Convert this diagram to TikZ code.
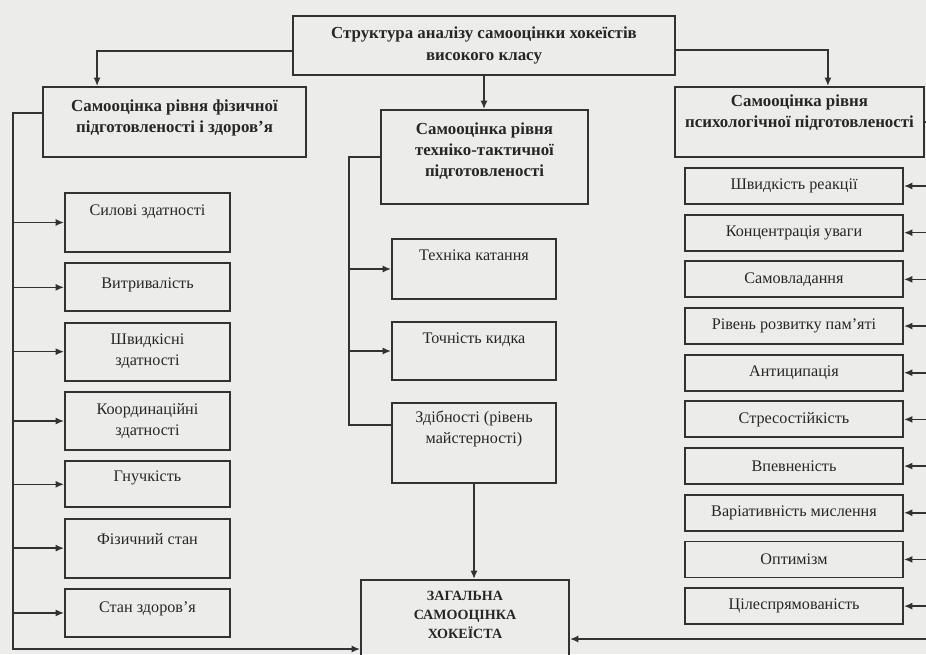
\documentclass[tikz,border=0pt]{standalone}
\usepackage{fontspec}
\setmainfont{Liberation Serif}
\usetikzlibrary{arrows.meta,calc,positioning}
\definecolor{ink}{RGB}{50,50,50}
\definecolor{type}{RGB}{38,38,38}
\definecolor{paper}{RGB}{236,236,234}
\tikzset{%
	head/.style     = {draw=ink, line width=1.3pt, rectangle, align=center, text=type, font=\fontsize{12}{15}\selectfont\bfseries},
	item/.style     = {draw=ink, line width=1.3pt, rectangle, align=center, text=type, font=\fontsize{11.5}{15}\selectfont},
	physitem/.style = {item, minimum width=4.125cm}, % left column
	techitem/.style = {item, minimum width=4.1cm}, % middle column
	psyitem/.style  = {item, minimum width=5.45cm, minimum height=0.9cm}, % right column
	lift/.style     = {text depth=#1},
	link/.style     = {ink, line width=1.1pt},
}

\begin{document}
\begin{tikzpicture}[x=0.025cm,y=-0.025cm,>={Latex[length=6pt,width=5pt]}]
	\path[use as bounding box, fill=paper] (0,0) rectangle (926,654);

	% headers
	\node [head, minimum width=9.55cm, minimum height=1.475cm] (top) at (484,45.5) {Структура аналізу самооцінки хокеїстів\\високого класу};
	\node [head, minimum width=6.575cm, minimum height=1.75cm, lift=8pt] (phys) at (174.5,122) {Самооцінка рівня фізичної\\підготовленості і здоров’я};
	\node [head, minimum width=5.175cm, minimum height=2.35cm, lift=11pt] (tech) at (484.5,157) {Самооцінка рівня\\техніко-тактичної\\підготовленості};
	\node [head, minimum width=6.225cm, minimum height=1.75cm, lift=16pt] (psych) at (799.5,122) {Самооцінка рівня\\психологічної підготовленості};
	\node [head, minimum width=5.2cm, minimum height=2.25cm, anchor=north, lift=14pt, font=\fontsize{10}{13.5}\selectfont\bfseries] (total) at (465,579) {ЗАГАЛЬНА\\САМООЦІНКА\\ХОКЕЇСТА};

	% left column
	\node [physitem, minimum height=1.475cm, lift=18pt] (strength) at (147.5,222.5) {Силові здатності};
	\node [physitem, minimum height=1.2cm, lift=6.5pt] (endurance) [below=0.237cm of strength] {Витривалість};
	\node [physitem, minimum height=1.45cm] (speed) [below=0.237cm of endurance] {Швидкісні\\здатності};
	\node [physitem, minimum height=1.45cm] (coord) [below=0.237cm of speed] {Координаційні\\здатності};
	\node [physitem, minimum height=1.15cm, lift=11pt] (flex) [below=0.237cm of coord] {Гнучкість};
	\node [physitem, minimum height=1.475cm, lift=13pt] (state) [below=0.237cm of flex] {Фізичний стан};
	\node [physitem, minimum height=1.2cm, lift=8pt] (health) [below=0.237cm of state] {Стан здоров’я};

	% middle column
	\node [techitem, minimum height=1.5cm, lift=20pt] (skating) at (474,269) {Техніка катання};
	\node [techitem, minimum height=1.45cm, lift=19pt] (shot) [below=0.529cm of skating] {Точність кидка};
	\node [techitem, minimum height=2cm, lift=23pt] (skill) [below=0.529cm of shot] {Здібності (рівень\\майстерності)};

	% right column
	\node [psyitem] (reaction) at (794,186) {Швидкість реакції};
	\node [psyitem] (focus) [below=0.221cm of reaction] {Концентрація уваги};
	\node [psyitem] (control) [below=0.221cm of focus] {Самовладання};
	\node [psyitem] (memory) [below=0.221cm of control] {Рівень розвитку пам’яті};
	\node [psyitem] (anticip) [below=0.221cm of memory] {Антиципація};
	\node [psyitem] (stress) [below=0.221cm of anticip] {Стресостійкість};
	\node [psyitem] (confid) [below=0.221cm of stress] {Впевненість};
	\node [psyitem] (variab) [below=0.221cm of confid] {Варіативність мислення};
	\node [psyitem] (optim) [below=0.221cm of variab] {Оптимізм};
	\node [psyitem] (purpose) [below=0.221cm of optim] {Цілеспрямованість};

	\coordinate (lbend) at (13,649);
	\coordinate (mbend) at (349,425);
	\coordinate (rbend) at (934,639);

	\draw[->,link] ([yshift=-0.14cm]top.west) -| ([xshift=1.375cm]phys.north west);
	\draw[->,link] (top.south) -- (top.south |- tech.north);
	\draw[->,link] ([yshift=-0.11cm]top.east) -| ([xshift=0.71cm]psych.north);

	\draw[->,link] ([yshift=0.225cm]phys.west) -| (lbend) -- (lbend -| total.west);
	\draw[->,link] (lbend |- strength.west) -- (strength.west);
	\draw[->,link] (lbend |- endurance.west) -- (endurance.west);
	\draw[->,link] (lbend |- speed.west) -- (speed.west);
	\draw[->,link] (lbend |- coord.west) -- (coord.west);
	\draw[->,link] (lbend |- flex.west) -- (flex.west);
	\draw[->,link] (lbend |- state.west) -- (state.west);
	\draw[->,link] (lbend |- health.west) -- (health.west);

	\draw[link] (tech.west) -| (mbend) -- (mbend -| skill.west);
	\draw[->,link] (mbend |- skating.west) -- (skating.west);
	\draw[->,link] (mbend |- shot.west) -- (shot.west);
	\draw[->,link] (skill.south) -- (skill.south |- total.north);

	\draw[->,link] (psych.east) -| (rbend) -- (rbend -| total.east);
	\draw[->,link] (rbend |- reaction.east) -- (reaction.east);
	\draw[->,link] (rbend |- focus.east) -- (focus.east);
	\draw[->,link] (rbend |- control.east) -- (control.east);
	\draw[->,link] (rbend |- memory.east) -- (memory.east);
	\draw[->,link] (rbend |- anticip.east) -- (anticip.east);
	\draw[->,link] (rbend |- stress.east) -- (stress.east);
	\draw[->,link] (rbend |- confid.east) -- (confid.east);
	\draw[->,link] (rbend |- variab.east) -- (variab.east);
	\draw[->,link] (rbend |- optim.east) -- (optim.east);
	\draw[->,link] (rbend |- purpose.east) -- (purpose.east);
\end{tikzpicture}
\end{document}
